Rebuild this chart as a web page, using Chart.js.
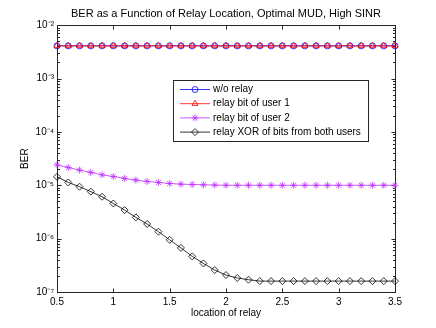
<!DOCTYPE html>
<html>
<head>
<meta charset="utf-8">
<script src="https://cdn.jsdelivr.net/npm/chart.js@4"></script>
<style>
  html, body { margin: 0; padding: 0; background: #fff; }
</style>
</head>
<body>
<canvas id="chart" width="436" height="328"></canvas>
<script>
// relay position along the line between the two users
const relayLocation = [0.5, 0.6, 0.7, 0.8, 0.9, 1.0, 1.1, 1.2, 1.3, 1.4, 1.5, 1.6, 1.7, 1.8, 1.9, 2.0,
  2.1, 2.2, 2.3, 2.4, 2.5, 2.6, 2.7, 2.8, 2.9, 3.0, 3.1, 3.2, 3.3, 3.4, 3.5];

const berNoRelay = [0.0041, 0.0041, 0.0041, 0.0041, 0.0041, 0.0041, 0.0041, 0.0041, 0.0041, 0.0041, 0.0041,
  0.0041, 0.0041, 0.0041, 0.0041, 0.0041, 0.0041, 0.0041, 0.0041, 0.0041, 0.0041, 0.0041, 0.0041, 0.0041,
  0.0041, 0.0041, 0.0041, 0.0041, 0.0041, 0.0041, 0.0041];

const berUser1 = [0.0041, 0.0041, 0.0041, 0.0041, 0.0041, 0.0041, 0.0041, 0.0041, 0.0041, 0.0041, 0.0041,
  0.0041, 0.0041, 0.0041, 0.0041, 0.0041, 0.0041, 0.0041, 0.0041, 0.0041, 0.0041, 0.0041, 0.0041, 0.0041,
  0.0041, 0.0041, 0.0041, 0.0041, 0.0041, 0.0041, 0.0041];

const berUser2 = [2.42e-5, 2.15e-5, 1.93e-5, 1.74e-5, 1.57e-5, 1.46e-5, 1.34e-5, 1.25e-5, 1.18e-5, 1.13e-5,
  1.08e-5, 1.05e-5, 1.035e-5, 1.02e-5, 1.01e-5, 1.0e-5, 1.0e-5, 1.0e-5, 1.0e-5, 1.0e-5, 1.0e-5, 1.0e-5,
  1.0e-5, 1.0e-5, 1.0e-5, 1.0e-5, 1.0e-5, 1.0e-5, 1.0e-5, 1.0e-5, 1.0e-5];

const berXor = [1.44e-5, 1.13e-5, 9.4e-6, 7.6e-6, 6.1e-6, 4.56e-6, 3.43e-6, 2.5e-6, 1.88e-6, 1.35e-6,
  9.5e-7, 6.7e-7, 4.65e-7, 3.43e-7, 2.58e-7, 2.08e-7, 1.83e-7, 1.7e-7, 1.6e-7, 1.6e-7, 1.6e-7, 1.6e-7,
  1.6e-7, 1.6e-7, 1.6e-7, 1.6e-7, 1.6e-7, 1.6e-7, 1.6e-7, 1.6e-7, 1.6e-7];

const xTicks = [0.5, 1, 1.5, 2, 2.5, 3, 3.5];
const yTicks = [1e-7, 1e-6, 1e-5, 1e-4, 1e-3, 1e-2];
const yTickLabels = ['10⁻⁷', '10⁻⁶', '10⁻⁵', '10⁻⁴', '10⁻³', '10⁻²'];

const FONT = '"Liberation Sans", Arial, Helvetica, sans-serif';
const AXIS_COLOR = '#262626';

Chart.defaults.font.family = FONT;
Chart.defaults.font.size = 10;
Chart.defaults.color = '#000';

const toPoints = (ys) => ys.map((v, i) => ({ x: relayLocation[i], y: v }));

// matlab style box with inward ticks (major + log minor)
const axesBox = {
  id: 'axesBox',
  afterLayout(chart) {
    // center the title over the plot area, not the whole canvas
    if (chart.titleBlock) {
      chart.titleBlock.left = chart.chartArea.left;
      chart.titleBlock.right = chart.chartArea.right;
    }
  },
  beforeDatasetsDraw(chart) {
    const { ctx, chartArea: a, scales: { x, y } } = chart;
    const L = Math.round(a.left) + 0.5;
    const R = Math.round(a.right) + 0.5;
    const T = Math.round(a.top) + 0.5;
    const B = Math.round(a.bottom) + 0.5;
    ctx.save();
    ctx.strokeStyle = AXIS_COLOR;
    ctx.lineWidth = 1;
    ctx.strokeRect(L, T, R - L, B - T);
    ctx.beginPath();
    xTicks.forEach(v => {
      const px = Math.round(x.getPixelForValue(v)) + 0.5;
      ctx.moveTo(px, B); ctx.lineTo(px, B - 4);
      ctx.moveTo(px, T); ctx.lineTo(px, T + 4);
    });
    yTicks.forEach(v => {
      const py = Math.round(y.getPixelForValue(v)) + 0.5;
      ctx.moveTo(L, py); ctx.lineTo(L + 4, py);
      ctx.moveTo(R, py); ctx.lineTo(R - 4, py);
    });
    for (let d = 0; d < yTicks.length - 1; d++) {
      for (let m = 2; m <= 9; m++) {
        const py = Math.round(y.getPixelForValue(m * yTicks[d])) + 0.5;
        ctx.moveTo(L, py); ctx.lineTo(L + 2.5, py);
        ctx.moveTo(R, py); ctx.lineTo(R - 2.5, py);
      }
    }
    ctx.stroke();
    ctx.restore();
  }
};

// legend box inside the plot, like the original figure
const boxLegend = {
  id: 'boxLegend',
  afterDatasetsDraw(chart) {
    const { ctx } = chart;
    const bx = 173.5, by = 80.5, bw = 195, bh = 61;
    ctx.save();
    ctx.fillStyle = '#fff';
    ctx.fillRect(bx, by, bw, bh);
    ctx.strokeStyle = AXIS_COLOR;
    ctx.lineWidth = 1;
    ctx.strokeRect(bx, by, bw, bh);
    ctx.font = '10px ' + FONT;
    ctx.textBaseline = 'middle';
    chart.data.datasets.forEach((ds, i) => {
      const yy = 89.5 + i * 14.2;
      ctx.strokeStyle = ds.borderColor;
      ctx.lineWidth = 0.8;
      ctx.beginPath();
      ctx.moveTo(180, yy);
      ctx.lineTo(210, yy);
      ctx.stroke();
      ctx.fillStyle = 'rgba(0,0,0,0)';
      Chart.helpers.drawPoint(ctx, {
        pointStyle: ds.pointStyle, radius: ds.pointRadius, borderWidth: 0.8, rotation: 0
      }, 195, yy);
      ctx.fillStyle = '#000';
      ctx.fillText(ds.label, 213, yy);
    });
    ctx.restore();
  }
};

const makeSet = (label, data, color, style, r, order) => ({
  label: label,
  data: toPoints(data),
  borderColor: color,
  backgroundColor: color,
  borderWidth: 0.8,
  pointStyle: style,
  pointRadius: r,
  pointBorderColor: color,
  pointBackgroundColor: 'rgba(0,0,0,0)',
  pointBorderWidth: 0.8,
  tension: 0,
  clip: false,
  order: order,
});

new Chart(document.getElementById('chart'), {
  type: 'line',
  data: {
    datasets: [
      makeSet('w/o relay', berNoRelay, '#0000ff', 'circle', 3, 3),
      makeSet('relay bit of user 1', berUser1, '#ff0000', 'triangle', 3.5, 2),
      makeSet('relay bit of user 2', berUser2, '#c030ff', 'star', 3.5, 1),
      makeSet('relay XOR of bits from both users', berXor, '#000000', 'rectRot', 3.5, 0),
    ],
  },
  options: {
    responsive: false,
    animation: false,
    devicePixelRatio: 1,
    layout: { padding: { left: 0, right: 41, top: 0, bottom: 0 } },
    plugins: {
      legend: { display: false },
      tooltip: { enabled: false },
      title: {
        display: true,
        text: 'BER as a Function of Relay Location, Optimal MUD, High SINR',
        font: { size: 11, weight: 'normal', lineHeight: 1.2 },
        color: '#000',
        padding: { top: 7, bottom: 5 },
      },
    },
    scales: {
      x: {
        type: 'linear',
        min: 0.5,
        max: 3.5,
        grid: { display: false, drawTicks: false },
        border: { display: false },
        afterBuildTicks: (scale) => { scale.ticks = xTicks.map(v => ({ value: v })); },
        ticks: { padding: 4, maxRotation: 0, callback: (v) => String(v) },
        title: { display: true, text: 'location of relay', padding: { top: 0, bottom: 9 } },
        afterFit: (scale) => { scale.height = 36; },
      },
      y: {
        type: 'logarithmic',
        min: 1e-7,
        max: 1e-2,
        grid: { display: false, drawTicks: false },
        border: { display: false },
        afterBuildTicks: (scale) => { scale.ticks = yTicks.map(v => ({ value: v })); },
        ticks: {
          padding: 3,
          callback: (v) => {
            const i = yTicks.findIndex(t => Math.abs(t - v) / t < 1e-6);
            return i >= 0 ? yTickLabels[i] : '';
          },
        },
        title: { display: true, text: 'BER', padding: { top: 19, bottom: 0 } },
        afterFit: (scale) => { scale.width = 57; },
      },
    },
  },
  plugins: [axesBox, boxLegend],
});
</script>
</body>
</html>
